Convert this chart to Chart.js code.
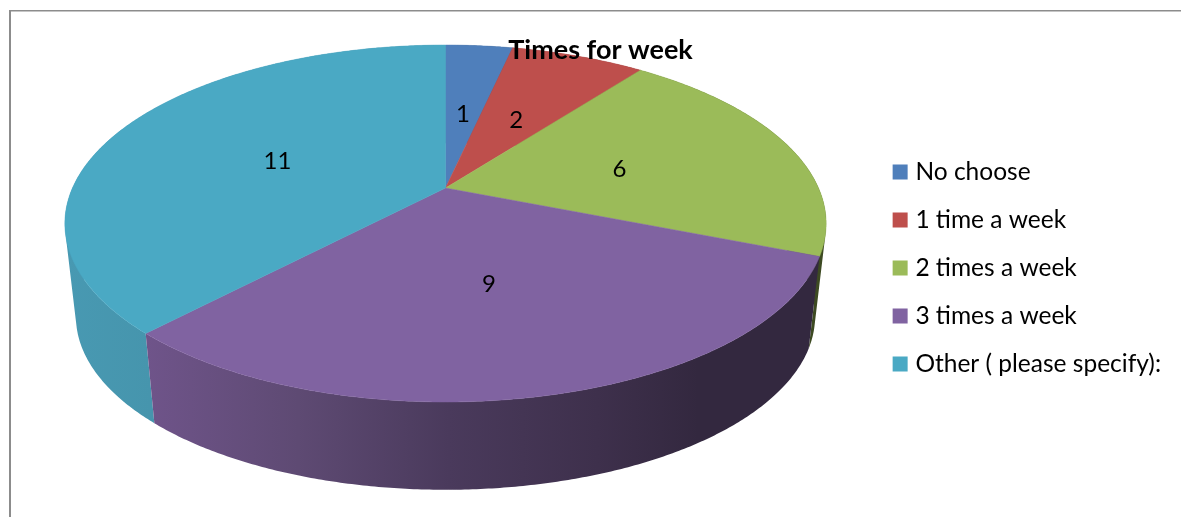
<!DOCTYPE html>
<html>
<head>
<meta charset="utf-8">
<style>
  html, body { margin: 0; padding: 0; background: #fff; }
  #wrap { position: relative; width: 1181px; height: 517px; }
</style>
</head>
<body>
<div id="wrap"><canvas id="chart" width="1181" height="517"></canvas></div>
<script src="https://cdn.jsdelivr.net/npm/chart.js@4"></script>
<script>
const chartTitle = 'Times for week';
const categories = ['No choose', '1 time a week', '2 times a week', '3 times a week', 'Other ( please specify):'];
const values = [1, 2, 6, 9, 11];
const colors = ['#4F7FBB', '#BE4F4C', '#9BBB59', '#8063A1', '#4AA9C4'];
const wallStops = [0, 0.226, 0.45, 0.67, 0.82];
const wallShades = [
  ['#3b5f8c', '#3b5f8c', '#365880', '#2f4c70', '#2f4c70'],
  ['#8e3b39', '#8e3b39', '#803533', '#722f2d', '#722f2d'],
  ['#4c5c2a', '#4c5c2a', '#445226', '#3d4a22', '#3d4a22'],
  ['#6f548a', '#5e4a73', '#4a3a5c', '#3e304c', '#33283f'],
  ['#4899B2', '#4695AD', '#4290A7', '#3F8CA3', '#3D8BA1']
];
const fontName = 'Lato, "Open Sans", sans-serif';

// perspective of the tilted disc: k is how much the near edge grows
const view = { cx: 445.5, cy: 188, r: 373, b: 171.4, k: -0.199 };
const floorY = 282;
const floorScale = 0.971;

function project(theta, radius, y0, scale) {
  const u = Math.sin(theta) * radius;
  const v = -Math.cos(theta) * radius;
  const d = 1 + view.k * v;
  return [view.cx + scale * view.r * u / d, y0 + scale * view.b * v / d];
}

function addQuad(ctx, pts) {
  // keep every quad wound the same way so overlaps do not cancel out
  let area = 0;
  pts.forEach((p, i) => {
    const q = pts[(i + 1) % pts.length];
    area += p[0] * q[1] - q[0] * p[1];
  });
  const list = area < 0 ? pts.slice().reverse() : pts;
  ctx.moveTo(list[0][0], list[0][1]);
  list.slice(1).forEach(p => ctx.lineTo(p[0], p[1]));
  ctx.closePath();
}

const pie3d = {
  id: 'pie3d',
  beforeLayout(chart) {
    // the title sits on top of the pie in the original
    const title = chart.titleBlock;
    title._layers = () => [{ z: 1, draw: area => title.draw(area) }];
  },
  beforeDraw(chart) {
    const ctx = chart.ctx;
    ctx.save();
    ctx.fillStyle = '#8c8c8c';
    ctx.fillRect(9, 10, 2, 507);
    ctx.fillRect(9, 10, 1172, 1.5);
    ctx.restore();
  },
  beforeDatasetsDraw(chart) {
    const ctx = chart.ctx;
    const arcs = chart.getDatasetMeta(0).data.map((el, i) => ({
      i,
      a: el.startAngle + Math.PI / 2,
      b: el.endAngle + Math.PI / 2
    }));
    const step = Math.PI / 360;

    // walls, back ones first
    const order = arcs.slice().sort((p, q) =>
      Math.abs((q.a + q.b) / 2 - Math.PI) - Math.abs((p.a + p.b) / 2 - Math.PI));
    order.forEach(arc => {
      const n = Math.ceil((arc.b - arc.a) / step);
      let minX = Infinity, maxX = -Infinity;
      ctx.beginPath();
      for (let j = 0; j < n; j++) {
        const t0 = arc.a + (arc.b - arc.a) * j / n;
        const t1 = arc.a + (arc.b - arc.a) * (j + 1) / n;
        const p0 = project(t0, 1, view.cy, 1);
        const p1 = project(t1, 1, view.cy, 1);
        const q1 = project(t1, 1, floorY, floorScale);
        const q0 = project(t0, 1, floorY, floorScale);
        addQuad(ctx, [p0, p1, q1, q0]);
        minX = Math.min(minX, p0[0], p1[0], q0[0], q1[0]);
        maxX = Math.max(maxX, p0[0], p1[0], q0[0], q1[0]);
      }
      const g = ctx.createLinearGradient(minX, 0, maxX, 0);
      wallStops.forEach((s, k) => g.addColorStop(s, wallShades[arc.i][k]));
      ctx.fillStyle = g;
      ctx.fill();
    });

    // top face
    arcs.forEach(arc => {
      const n = Math.ceil((arc.b - arc.a) / step);
      ctx.beginPath();
      ctx.moveTo(view.cx, view.cy);
      for (let j = 0; j <= n; j++) {
        const p = project(arc.a + (arc.b - arc.a) * j / n, 1, view.cy, 1);
        ctx.lineTo(p[0], p[1]);
      }
      ctx.closePath();
      ctx.fillStyle = colors[arc.i];
      ctx.strokeStyle = colors[arc.i];
      ctx.lineWidth = 0.5;
      ctx.fill();
      ctx.stroke();
    });

    // value labels
    ctx.fillStyle = '#000';
    ctx.font = '24px ' + fontName;
    ctx.textAlign = 'center';
    ctx.textBaseline = 'middle';
    arcs.forEach(arc => {
      const p = project((arc.a + arc.b) / 2, 0.5, view.cy, 1);
      ctx.fillText(String(values[arc.i]), p[0] - 1, p[1] + 4);
    });
    return false;
  }
};

new Chart(document.getElementById('chart'), {
  type: 'pie',
  data: {
    labels: categories,
    datasets: [{ data: values, backgroundColor: colors, borderWidth: 0 }]
  },
  options: {
    responsive: false,
    animation: false,
    layout: { padding: { left: 30, right: 10, top: 34, bottom: 15 } },
    plugins: {
      tooltip: { enabled: false },
      title: {
        display: true,
        text: chartTitle,
        color: '#000',
        font: { family: fontName, size: 27, weight: 'bold' },
        padding: 0
      },
      legend: {
        position: 'right',
        labels: {
          color: '#000',
          font: { family: fontName, size: 24.5 },
          usePointStyle: true,
          pointStyle: 'rect',
          boxWidth: 6,
          boxHeight: 15,
          padding: 23.5
        }
      }
    }
  },
  plugins: [pie3d]
});
</script>
</body>
</html>
